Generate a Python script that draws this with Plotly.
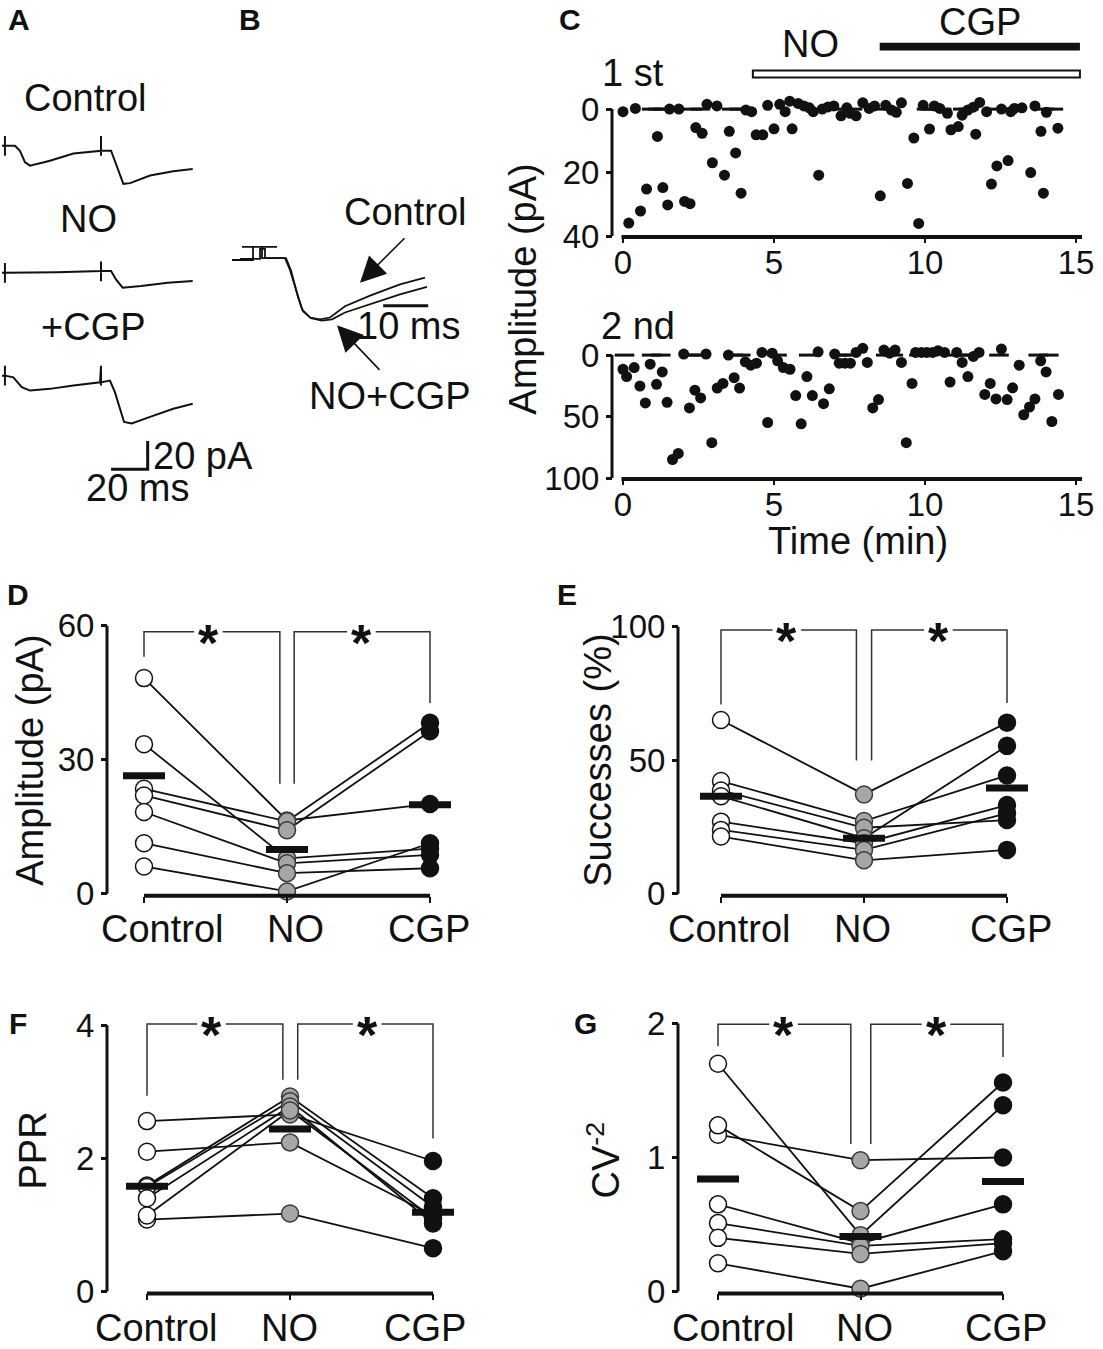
import plotly.graph_objects as go

W, H = 1103, 1349
FONT = 'Liberation Sans, Arial, sans-serif'
TXT = 38
NUM = 33
INK = '#111111'

# ---------------- data ----------------
# A: example EPSC pairs (time in ms, current in pA)
a_ctrl_t = [0, 1.6, 1.6, 1.6, 1.6, 7.1, 9.8, 12.6, 15.3, 26.2, 39.0, 54.1, 54.1, 54.1, 54.1,
            59.6, 62.3, 66.3, 70.0, 80.9, 93.6, 104.2]
a_ctrl_i = [0, 0, 7, -7, 0, 0, -3.5, -11.7, -14.1, -10.6, -5.4, -3.5, 7, -7, -3.5,
            -3.5, -12.9, -27.0, -26.5, -21.1, -18.1, -16.4]
a_no_t = [0, 1.6, 1.6, 1.6, 1.6, 30.0, 54.1, 54.1, 54.1, 54.1, 59.6, 62.3, 65.9, 76.0, 90.6, 104.2]
a_no_i = [0, 0, 7, -7, 0, 0.3, 1.2, 8, -6, 1.2, 1.2, -4.7, -10.6, -9.4, -7.0, -5.9]
a_cgp_t = [0, 1.6, 1.6, 1.6, 1.6, 6.2, 10.8, 15.3, 26.2, 39.0, 53.6, 54.1, 54.1, 54.1,
           59.0, 61.7, 66.7, 70.9, 80.9, 93.6, 104.2]
a_cgp_i = [0, 0, 7, -7, 0, -1.2, -8.2, -10.6, -9.4, -7.0, -4.7, 7, -7, -4.7,
           -3.5, -11.7, -32.9, -34.0, -29.3, -23.5, -20.0]
a_bar_ms, a_bar_pa = 20, 20

# B: superimposed, normalised EPSCs (time in ms)
b_ctrl_t = [0, 4.67, 4.67, 2.22, 10.0, 6.67, 6.67, 11.78, 12.89, 14.44, 15.56, 17.33, 19.56,
            21.78, 25.11, 30.67, 37.33, 42.89]
b_ctrl_v = [-0.05, -0.05, 0.16, 0.16, 0.16, 0.16, -0.02, -0.02, -0.21, -0.60, -0.84, -0.97, -1.0,
            -0.97, -0.79, -0.62, -0.44, -0.33]
b_cgp_t = [1.78, 6.22, 6.22, 7.33, 7.33, 12.0, 13.11, 14.67, 15.78, 17.56, 20.0, 22.22, 25.11,
           30.67, 37.33, 43.33]
b_cgp_v = [-0.03, -0.03, 0.13, 0.13, -0.02, -0.02, -0.22, -0.64, -0.87, -0.98, -1.02, -1.0, -0.89,
           -0.76, -0.60, -0.48]
b_bar_ms = 10

# C: amplitude time course (min, pA); failures plotted as dashes at 0
c1_time = [0.0, 0.19, 0.41, 0.58, 0.78, 1.14, 1.32, 1.48, 1.54, 1.85, 2.04, 2.22, 2.41, 2.62, 2.78,
           2.96, 3.11, 3.36, 3.52, 3.73, 3.91, 4.07, 4.26, 4.41, 4.63, 4.79, 5.0, 5.19, 5.37, 5.52,
           5.6, 5.8, 5.99, 6.17, 6.3, 6.48, 6.6, 6.79, 6.98, 7.22, 7.41, 7.53, 7.72, 7.94, 8.15,
           8.33, 8.52, 8.7, 8.89, 9.05, 9.22, 9.42, 9.63, 9.79, 9.94, 10.15, 10.31, 10.49, 10.74,
           10.86, 11.1, 11.23, 11.42, 11.6, 11.68, 11.81, 12.04, 12.2, 12.38, 12.53, 12.75, 12.84,
           12.96, 13.21, 13.5, 13.64, 13.84, 13.92, 14.02, 14.4]
c1_amp = [0.8, 35.9, -0.2, 32.1, 25.2, 8.6, 24.7, 30.2, 0, 0, 29.1, 29.8, 5.8, 7.6, -1.5,
          16.9, -1.0, 20.8, 7.0, 13.8, 26.5, 0.3, 0.8, 8.1, 8.1, -1.2, 6.2, -1.5, 0.8, -2.5,
          6.2, -1.8, -1.0, -0.4, 0.8, 20.8, 0, -0.7, -1.0, 2.1, -0.4, 1.3, 2.1, -2.0, -0.2,
          -1.0, 27.3, -1.2, 0.3, 1.0, -2.0, 23.4, 9.1, 36.0, -1.2, 6.3, -1.0, -0.2, 1.3,
          6.5, 5.5, 1.9, 0.3, -0.6, 7.9, -2.1, 0.8, 23.6, 17.9, 0, 16.2, 0.8,
          -0.2, -0.4, 20.0, -1.0, 7.0, 26.5, 1.0, 6.0]
c1_fail = [0.95, 1.15, 1.35, 2.3, 2.55, 3.6, 3.85, 7.3, 7.6, 8.75, 10.05, 10.3, 10.55, 11.25,
           11.45, 12.45, 12.7, 13.95, 14.25]

c2_time = [0.0, 0.12, 0.37, 0.56, 0.74, 0.9, 1.11, 1.3, 1.46, 1.64, 1.83, 2.01, 2.2, 2.38, 2.57,
           2.75, 2.94, 3.12, 3.31, 3.49, 3.68, 3.86, 4.05, 4.23, 4.42, 4.6, 4.79, 4.94, 5.12, 5.31,
           5.53, 5.72, 5.9, 6.09, 6.27, 6.46, 6.64, 6.83, 7.01, 7.16, 7.35, 7.53, 7.72, 7.94, 8.09,
           8.27, 8.46, 8.64, 8.83, 9.01, 9.22, 9.38, 9.57, 9.69, 9.88, 10.06, 10.25, 10.43, 10.65,
           10.83, 11.05, 11.23, 11.42, 11.6, 11.79, 11.98, 12.16, 12.35, 12.53, 12.72, 12.9, 13.12,
           13.27, 13.46, 13.64, 13.83, 14.01, 14.2, 14.42]
c2_amp = [11.5, 17.5, 10.1, 25.2, 38.9, 7.4, 23.8, 13.7, 38.4, 84.9, 80.0, -0.8, 43.0, 28.5, 34.8,
          -0.8, 71.2, 26.8, 23.0, 0.0, 18.4, 26.8, 5.5, 8.2, 6.6, -2.2, 54.8, -1.6, 4.7, 10.1,
          11.5, 32.9, 55.9, 17.5, 32.9, -2.7, 39.5, 27.4, -0.8, 6.6, 6.6, 6.6, -2.2, -5.5, 6.0,
          43.0, 36.2, -4.1, -1.6, -4.1, 6.0, 71.2, 23.0, -2.2, -2.2, -2.2, -2.2, -3.6, -2.2,
          21.9, -2.2, 6.0, 17.5, 1.1, -2.2, 32.0, 23.0, 35.6, -4.9, 36.2, 26.6, 8.2,
          48.5, 42.2, 35.6, 4.7, 13.7, 54.0, 32.0]
c2_fail = [0.05, 0.95, 1.25, 2.25, 2.5, 3.65, 3.9, 5.1, 6.15, 7.2, 7.45, 8.7, 8.95, 9.8, 10.1,
           10.9, 11.3, 11.55, 12.45, 13.75, 14.1]

# D-G: paired data, one entry per cell (Control, NO, CGP) and group means
conditions = ['Control', 'NO', 'CGP']
amp_ctrl = [48.3, 23.5, 22.0, 33.5, 18.3, 11.3, 6.1]
amp_no = [16.4, 16.2, 14.2, 7.9, 6.8, 4.6, 0.5]
amp_cgp = [20.1, 38.3, 36.4, 10.1, 8.7, 5.7, 11.3]
amp_mean = [26.4, 9.9, 19.9]

succ_ctrl = [65.1, 42.2, 38.7, 36.5, 27.0, 23.9, 21.4]
succ_no = [37.2, 27.2, 24.7, 20.8, 18.9, 16.4, 12.5]
succ_cgp = [64.1, 44.3, 27.6, 55.4, 33.2, 30.1, 16.4]
succ_mean = [36.5, 20.8, 39.6]

ppr_ctrl = [2.56, 2.10, 1.08, 1.59, 1.57, 1.40, 1.14]
ppr_no = [2.66, 2.24, 1.17, 2.93, 2.86, 2.78, 2.72]
ppr_cgp = [1.96, 1.14, 0.65, 1.40, 1.27, 1.02, 1.10]
ppr_mean = [1.58, 2.44, 1.19]

cv_ctrl = [1.70, 1.17, 1.24, 0.65, 0.51, 0.40, 0.21]
cv_no = [0.42, 0.98, 0.60, 0.36, 0.34, 0.28, 0.02]
cv_cgp = [1.39, 1.00, 1.56, 0.65, 0.39, 0.36, 0.30]
cv_mean = [0.84, 0.41, 0.82]

# ---------------- helpers ----------------
fig = go.Figure()
ann = []
shapes = []


def xp(p):
    return p / W


def yp(p):
    return 1 - p / H


def lin(cal, p):
    v0, p0, v1, p1 = cal
    return v0 + (p - p0) * (v1 - v0) / (p1 - p0)


def axes(n, xcal, xpx, ycal, ypx, xkw=None, ykw=None):
    s = '' if n == 1 else str(n)
    xa = dict(domain=[xp(xpx[0]), xp(xpx[1])], range=[lin(xcal, xpx[0]), lin(xcal, xpx[1])],
              showgrid=False, zeroline=False, visible=False, anchor='y' + s, fixedrange=True)
    ya = dict(domain=[yp(ypx[1]), yp(ypx[0])], range=[lin(ycal, ypx[1]), lin(ycal, ypx[0])],
              showgrid=False, zeroline=False, visible=False, anchor='x' + s, fixedrange=True)
    if xkw:
        xa.update(xkw)
    if ykw:
        ya.update(ykw)
    fig.update_layout(**{'xaxis' + s: xa, 'yaxis' + s: ya})
    return 'x' + s, 'y' + s


def text(x, y, t, size=TXT, bold=False, angle=0, xanchor='center'):
    ann.append(dict(x=xp(x), y=yp(y), xref='paper', yref='paper', text=t, showarrow=False,
                    xanchor=xanchor, yanchor='middle', textangle=angle,
                    font=dict(family=FONT, size=size, color=INK,
                              weight='bold' if bold else 'normal')))


def line(xa, ya, x, y, width=2.0, color=INK):
    fig.add_trace(go.Scatter(x=x, y=y, mode='lines', xaxis=xa, yaxis=ya,
                             line=dict(color=color, width=width), hoverinfo='skip'))


def free_axes(spine_x, base_y, yticks):
    xkw = dict(visible=True, anchor='free', position=yp(base_y), showline=False,
               ticks='outside', ticklen=6, tickwidth=2, tickcolor=INK, showticklabels=False)
    ykw = dict(visible=True, anchor='free', position=xp(spine_x), showline=False,
               ticks='outside', ticklen=6, tickwidth=2.5, tickcolor=INK, tickvals=yticks,
               ticktext=[str(v) for v in yticks], tickfont=dict(family=FONT, size=NUM, color=INK))
    return xkw, ykw


def spines(xa, ya, spine_x, yspan, base_y, xspan):
    shapes.append(dict(type='line', xref='paper', yref=ya, x0=xp(spine_x), x1=xp(spine_x),
                       y0=yspan[0], y1=yspan[1], line=dict(color=INK, width=3)))
    shapes.append(dict(type='line', xref=xa, yref='paper', x0=xspan[0], x1=xspan[1],
                       y0=yp(base_y), y1=yp(base_y), line=dict(color=INK, width=4)))


# ---------------- A ----------------
A_X = (0, 2, 100, 2 + 183)
xa, ya = axes(1, A_X, (0, 200), (0, 145, 10, 145 - 14.2), (125, 200))
line(xa, ya, a_ctrl_t, a_ctrl_i)
xa, ya = axes(2, A_X, (0, 200), (0, 273, 10, 273 - 14.2), (253, 330))
line(xa, ya, a_no_t, a_no_i)
xa, ya = axes(3, A_X, (0, 200), (0, 376.7, 10, 376.7 - 14.2), (356, 495))
line(xa, ya, a_cgp_t, a_cgp_i)
bx, by = 59.6, -66.4
line(xa, ya, [bx, bx + a_bar_ms, bx + a_bar_ms], [by, by, by + a_bar_pa], width=3)
text(85, 97, 'Control')
text(88, 219, 'NO')
text(93, 328, '+CGP')
text(151, 458, '20 pA', xanchor='left')
text(137, 490, '20 ms')

# ---------------- B ----------------
xa, ya = axes(4, (0, 232, 10, 277), (222, 445), (0, 257, -1, 320), (235, 340))
line(xa, ya, b_ctrl_t, b_ctrl_v, width=1.8)
line(xa, ya, b_cgp_t, b_cgp_v, width=1.8)
line(xa, ya, [33.6, 33.6 + b_bar_ms], [-0.78, -0.78], width=3)
text(405, 212, 'Control')
text(390, 397, 'NO+CGP')
text(408, 327, '10 ms')
for hx, hy, tx, ty in [(360, 283, 406, 237), (337, 326, 381, 372)]:
    ann.append(dict(x=xp(hx), y=yp(hy), xref='paper', yref='paper', text='', showarrow=True,
                    ax=tx - hx, ay=ty - hy, arrowhead=2, arrowsize=3.2, arrowwidth=1.6,
                    arrowcolor=INK))

# ---------------- C ----------------
C_X = (0, 623, 15, 1076)
for n, ycal, ypx, base, yticks, t, amp, fail in [
        (5, (0, 108, 40, 236), (92, 246), 237, [0, 20, 40], c1_time, c1_amp, c1_fail),
        (6, (0, 356, 100, 480), (338, 492), 481, [0, 50, 100], c2_time, c2_amp, c2_fail)]:
    xkw, ykw = free_axes(612, base, yticks)
    xkw.update(tickvals=[0, 5, 10, 15], showticklabels=True, ticklen=5, ticklabelstandoff=-9,
               tickfont=dict(family=FONT, size=NUM, color=INK))
    xa, ya = axes(n, C_X, (598, 1098), ycal, ypx, xkw, ykw)
    spines(xa, ya, 612, (0, yticks[-1]), base, (-0.05, 15.2))
    fig.add_trace(go.Scatter(x=fail, y=[0] * len(fail), mode='markers', xaxis=xa, yaxis=ya,
                             cliponaxis=False,
                             marker=dict(symbol='line-ew', size=14, line=dict(color=INK, width=3))))
    fig.add_trace(go.Scatter(x=t, y=amp, mode='markers', xaxis=xa, yaxis=ya, cliponaxis=False,
                             marker=dict(size=11, color=INK, line=dict(width=0))))
    if n == 5:
        shapes.append(dict(type='rect', xref=xa, yref='paper', x0=4.3, x1=15.13,
                           y0=yp(76), y1=yp(69), fillcolor='white', line=dict(color=INK, width=2)))
        shapes.append(dict(type='rect', xref=xa, yref='paper', x0=8.5, x1=15.13,
                           y0=yp(49), y1=yp(41), fillcolor=INK, line=dict(width=0)))
text(633, 72, '1 st')
text(638, 327, '2 nd')
text(810, 42, 'NO')
ann.append(dict(x=xp(980), y=1, xref='paper', yref='paper', text='CGP', showarrow=False,
                xanchor='center', yanchor='top', yshift=3,
                font=dict(family=FONT, size=TXT, color=INK)))
text(523, 290, 'Amplitude (pA)', angle=-90)
text(858, 543, 'Time (min)')


# ---------------- D-G ----------------
def paired(n, xcal, xpx, ycal, ypx, spine_x, base_y, yticks, ctrl, no, cgp, means,
           brk, stars, ytitle, title_pos, cat_x, cat_y):
    xkw, ykw = free_axes(spine_x, base_y, yticks)
    xkw.update(tickvals=[0, 1, 2])
    xa, ya = axes(n, xcal, xpx, ycal, ypx, xkw, ykw)
    spines(xa, ya, spine_x, (yticks[0], yticks[-1]), base_y, (0, 2))
    c0, top, ne, ce, offl, offr = brk
    g = 0.1
    line(xa, ya, [0, 0, stars[0] - g, None, stars[0] + g, 1 - offl, 1 - offl],
         [c0, top, top, None, top, top, ne], width=1.5, color='#333333')
    line(xa, ya, [1 + offr, 1 + offr, stars[1] - g, None, stars[1] + g, 2, 2],
         [ne, top, top, None, top, top, ce], width=1.5, color='#333333')
    for sx in stars:
        ann.append(dict(x=sx, y=top, xref=xa, yref=ya, text='*', showarrow=False,
                        yanchor='middle', yshift=-11,
                        font=dict(family=FONT, size=52, color=INK, weight='bold')))
    for a, b, c in zip(ctrl, no, cgp):
        line(xa, ya, [0, 1, 2], [a, b, c], width=1.8)
    styles = [('white', INK), ('#a6a6a6', '#3a3a3a'), (INK, INK)]
    for k, vals in enumerate([ctrl, no, cgp]):
        fig.add_trace(go.Scatter(x=[k] * len(vals), y=vals, mode='markers', xaxis=xa, yaxis=ya,
                                 cliponaxis=False,
                                 marker=dict(size=17, color=styles[k][0],
                                             line=dict(color=styles[k][1], width=1.5))))
    fig.add_trace(go.Scatter(x=[0, 1, 2], y=means, mode='markers', xaxis=xa, yaxis=ya,
                             cliponaxis=False,
                             marker=dict(symbol='line-ew', size=30, line=dict(color=INK, width=7))))
    for k, name in enumerate(conditions):
        text(cat_x[k], cat_y, name)
    text(title_pos[0], title_pos[1], ytitle, angle=-90)


paired(7, (0, 144, 2, 430), (100, 470), (0, 899, 60, 629), (612, 912), 107, 901, [0, 30, 60],
       amp_ctrl, amp_no, amp_cgp, amp_mean, (53.1, 58.7, 24.6, 42.7, 0.05, 0.05), (0.45, 1.52),
       'Amplitude (pA)', (30, 765), (162, 295, 429), 935)
paired(8, (0, 721, 2, 1007), (670, 1045), (0, 899, 100, 630), (612, 912), 678, 901,
       [0, 50, 100], succ_ctrl, succ_no, succ_cgp, succ_mean,
       (70.9, 98.8, 49.9, 71.5, 0.053, 0.053), (0.46, 1.52),
       'Successes (%)', (598, 765), (729, 862, 1011), 935)
paired(9, (0, 147, 2, 433), (100, 470), (0, 1300, 4, 1031.7), (1012, 1322), 107, 1302,
       [0, 2, 4], ppr_ctrl, ppr_no, ppr_cgp, ppr_mean,
       (2.94, 4.02, 3.18, 2.30, 0.05, 0.054), (0.45, 1.54),
       'PPR', (33, 1158), (156, 289, 425), 1337)
paired(10, (0, 718, 2, 1003), (670, 1045), (0, 1300, 2, 1030), (1012, 1322), 678, 1302,
       [0, 1, 2], cv_ctrl, cv_no, cv_cgp, cv_mean,
       (1.83, 1.995, 1.10, 1.75, 0.068, 0.072), (0.46, 1.53),
       'CV<sup>-2</sup>', (604, 1168), (733, 864, 1006), 1337)

# panel letters
for lt, x, y in [('A', 19, 18), ('B', 250, 18), ('C', 570, 18), ('D', 18, 597),
                 ('E', 567, 597), ('F', 18, 1030), ('G', 585, 1030)]:
    text(x, y, lt, size=30, bold=True)

fig.update_layout(width=W, height=H, margin=dict(l=0, r=0, t=0, b=0),
                  paper_bgcolor='white', plot_bgcolor='white', showlegend=False,
                  annotations=ann, shapes=shapes, font=dict(family=FONT, color=INK))
fig.write_html('out.html', config={'displayModeBar': False},
               post_script="document.body.style.margin='0px';")
